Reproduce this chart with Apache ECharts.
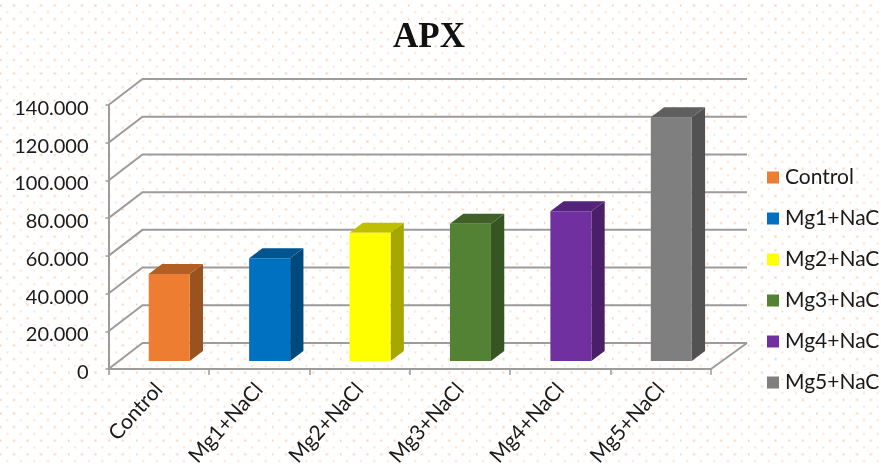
<!DOCTYPE html>
<html>
<head>
<meta charset="utf-8">
<style>html,body{margin:0;padding:0;background:#fff}#c{width:881px;height:466px}</style>
<script src="https://cdn.jsdelivr.net/npm/echarts@6/dist/echarts.min.js"></script>
</head>
<body>
<div id="c"></div>
<script>
const categories = ['Control','Mg1+NaCl','Mg2+NaCl','Mg3+NaCl','Mg4+NaCl','Mg5+NaCl'];
const values = [46.1,54.5,68,72.8,79.4,129.2];
const faceColors = ['#ED7D31','#0070C0','#FFFF00','#548235','#7030A0','#7F7F7F'];
const sideColors = ['#9A521F','#00497D','#A6A600','#365522','#492068','#525252'];
const topColors = ['#B25E24','#00548F','#BFBF00','#3F6128','#54247A','#5F5F5F'];
const yTicks = [0,20,40,60,80,100,120,140];
const yTickLabels = ['0','20.000','40.000','60.000','80.000','100.000','120.000','140.000'];
const FONT = 'Lato';
const GRID = '#9C9C9C';

function dots(){
  const period = 13.6, n = 5, size = period*n;
  const cv = document.createElement('canvas');
  cv.width = size; cv.height = size;
  const g = cv.getContext('2d');
  for (let r=0;r<n*2;r++) for (let k=0;k<n;k++){
    const x = (14 + k*period + (r%2 ? 6.8 : 0)) % size;
    const y = (5.5 + r*6.8) % size;
    const strong = r%2===0;
    g.fillStyle = strong ? 'rgba(244,177,131,0.22)' : 'rgba(244,177,131,0.13)';
    g.fillRect(x-1.5,y-1.5,3,3);
    g.fillStyle = strong ? 'rgba(244,160,100,0.55)' : 'rgba(244,160,100,0.35)';
    g.fillRect(x-0.5,y-0.5,1,1);
  }
  return {image:cv, repeat:'repeat'};
}

const WALL = [34,-26], BAR_FRONT = [10.5,-8], BAR_DEPTH = [13.3,-10], BAR_W = 41;

function gridItem(params, api){
  const cs = params.coordSys;
  const p = api.coord([0, api.value(1)]);
  const left = cs.x, right = cs.x + cs.width, y = p[1];
  const kids = [{type:'polyline', shape:{points:[[left,y],[left+WALL[0],y+WALL[1]],[right+WALL[0]+2,y+WALL[1]]]},
    style:{stroke:GRID, lineWidth:2, fill:null}}];
  if (api.value(1) === 0) kids.push({type:'line', shape:{x1:right,y1:y,x2:right+WALL[0]+2,y2:y+WALL[1]},
    style:{stroke:GRID, lineWidth:2}});
  return {type:'group', children:kids};
}

function barItem(i){
  return function(params, api){
    const base = api.coord([api.value(0), 0]);
    const top = api.coord([api.value(0), api.value(1)]);
    const x0 = base[0] + BAR_FRONT[0] - BAR_W/2, x1 = x0 + BAR_W;
    const yb = base[1] + BAR_FRONT[1], yt = top[1] + BAR_FRONT[1];
    const dx = BAR_DEPTH[0], dy = BAR_DEPTH[1];
    return {type:'group', children:[
      {type:'polygon', shape:{points:[[x1,yt],[x1+dx,yt+dy],[x1+dx,yb+dy],[x1,yb]]}, style:{fill:sideColors[i]}},
      {type:'polygon', shape:{points:[[x0,yt],[x0+dx,yt+dy],[x1+dx,yt+dy],[x1,yt]]}, style:{fill:topColors[i]}},
      {type:'rect', shape:{x:x0,y:yt,width:BAR_W,height:yb-yt}, style:{fill:faceColors[i]}}
    ]};
  };
}

const chart = echarts.init(document.getElementById('c'), null, {renderer:'canvas'});
chart.setOption({
  animation:false,
  backgroundColor: dots(),
  title:{text:'APX', left:424, top:15, textAlign:'center',
    textStyle:{fontFamily:'Liberation Serif', fontWeight:'bold', fontSize:35, color:'#111'}},
  legend:{orient:'vertical', left:762, top:162, itemWidth:12, itemHeight:12, itemGap:20, icon:'rect',
    data:categories, selectedMode:false,
    textStyle:{fontFamily:FONT, fontSize:21, color:'#1a1a1a', padding:[0,0,0,1]}},
  grid:{left:108.5, right:170, top:105, bottom:97, outerBoundsMode:'none'},
  xAxis:{type:'category', data:categories,
    axisLine:{lineStyle:{color:GRID,width:2}},
    axisTick:{show:true,length:6,lineStyle:{color:GRID,width:1.5},alignWithLabel:false},
    axisLabel:{rotate:48, margin:17, interval:0, fontFamily:FONT, fontSize:21, color:'#1a1a1a'}},
  yAxis:{type:'value', min:0, max:140, interval:20,
    axisLine:{show:true,lineStyle:{color:GRID,width:2}},
    axisTick:{show:true,length:3,lineStyle:{color:GRID,width:1.5}},
    splitLine:{show:false},
    axisLabel:{margin:20,
      rich:{t:{fontFamily:FONT, fontSize:20, color:'#1a1a1a', padding:[7,0,0,0]}},
      formatter:v=>'{t|'+yTickLabels[yTicks.indexOf(v)]+'}'}},
  series:[
    {type:'custom', name:'grid', silent:true, z:1, renderItem:gridItem,
      data:yTicks.map(v=>[0,v])},
    ...categories.map((c,i)=>({
      type:'custom', name:c, z:2, silent:true, renderItem:barItem(i),
      itemStyle:{color:faceColors[i]},
      data:[[i,values[i]]]
    }))
  ]
});
</script>
</body>
</html>
